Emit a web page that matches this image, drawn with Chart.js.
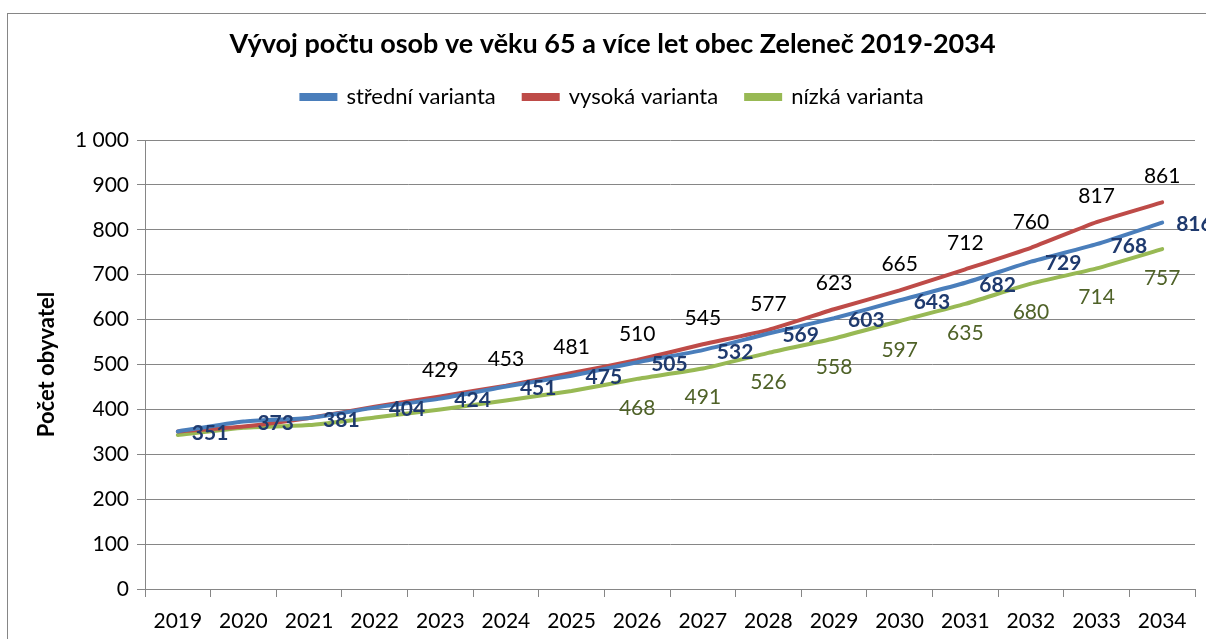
<!DOCTYPE html>
<html>
<head>
<meta charset="utf-8">
<script src="https://cdn.jsdelivr.net/npm/chart.js@4.4.1/dist/chart.umd.min.js"></script>
<style>
  html, body { margin: 0; padding: 0; background: #fff; overflow: hidden; }
  .frame {
    position: absolute; left: 7px; top: 13px; width: 1220px; height: 660px;
    border: 1px solid #868686; box-sizing: border-box;
  }
  .wrap { position: absolute; left: 0; top: 0; width: 1206px; height: 639px; }
</style>
</head>
<body>
<div class="frame"></div>
<div class="wrap"><canvas id="chart" width="1206" height="639"></canvas></div>
<script>
// Data
const years = ['2019', '2020', '2021', '2022', '2023', '2024', '2025', '2026',
               '2027', '2028', '2029', '2030', '2031', '2032', '2033', '2034'];
const stredni = [351, 373, 381, 404, 424, 451, 475, 505, 532, 569, 603, 643, 682, 729, 768, 816];
const vysoka  = [351, 362, 381, 406, 429, 453, 481, 510, 545, 577, 623, 665, 712, 760, 817, 861];
const nizka   = [343, 359, 365, 382, 400, 420, 441, 468, 491, 526, 558, 597, 635, 680, 714, 757];
const yTicks = [0, 100, 200, 300, 400, 500, 600, 700, 800, 900, 1000];

// labels that are visible in the reference (first index shown)
const vysokaLabelFrom = 4;
const nizkaLabelFrom = 7;

const FONT = 'Lato, "Open Sans", sans-serif';

// Simple data label drawing (no datalabels plugin available offline)
const valueLabels = {
    id: 'valueLabels',
    afterDatasetsDraw(chart) {
        const ctx = chart.ctx;
        ctx.save();
        ctx.textBaseline = 'middle';
        chart.data.datasets.forEach((ds, di) => {
            const meta = chart.getDatasetMeta(di);
            meta.data.forEach((pt, i) => {
                const v = ds.data[i];
                if (di === 0) {
                    ctx.font = 'bold 21px ' + FONT;
                    ctx.fillStyle = '#1F3A6E';
                    ctx.textAlign = 'left';
                    ctx.fillText(v, pt.x + 14, pt.y + 2);
                } else if (di === 1 && i >= vysokaLabelFrom) {
                    ctx.font = '21px ' + FONT;
                    ctx.fillStyle = '#000';
                    ctx.textAlign = 'center';
                    ctx.fillText(v, pt.x, pt.y - 26);
                } else if (di === 2 && i >= nizkaLabelFrom) {
                    ctx.font = '21px ' + FONT;
                    ctx.fillStyle = '#4F6228';
                    ctx.textAlign = 'center';
                    ctx.fillText(v, pt.x, pt.y + 29);
                }
            });
        });
        ctx.restore();
    }
};

const ctx = document.getElementById('chart').getContext('2d');
new Chart(ctx, {
    type: 'line',
    data: {
        labels: years,
        datasets: [
            { label: 'střední varianta', data: stredni, borderColor: '#4A7EBB', backgroundColor: '#4A7EBB' },
            { label: 'vysoká varianta', data: vysoka, borderColor: '#BE4B48', backgroundColor: '#BE4B48' },
            { label: 'nízká varianta', data: nizka, borderColor: '#98B954', backgroundColor: '#98B954' }
        ]
    },
    options: {
        responsive: false,
        animation: false,
        elements: {
            line: { borderWidth: 4, tension: 0.15, borderCapStyle: 'round' },
            point: { radius: 0 }
        },
        layout: { padding: { left: 30, right: 11, top: 0, bottom: 0 } },
        plugins: {
            title: {
                display: true,
                text: 'Vývoj počtu osob ve věku 65 a více let obec Zeleneč 2019-2034',
                color: '#000',
                font: { family: FONT, size: 27, weight: 'bold', lineHeight: 1 },
                padding: { top: 31, bottom: 0 }
            },
            legend: {
                display: true,
                position: 'top',
                labels: {
                    color: '#000',
                    font: { family: FONT, size: 22 },
                    boxWidth: 34,
                    boxHeight: 4,
                    padding: 28
                }
            },
            tooltip: { enabled: false }
        },
        scales: {
            x: {
                offset: true,
                grid: {
                    offset: true,
                    drawOnChartArea: false,
                    drawTicks: true,
                    tickLength: 8,
                    color: '#868686'
                },
                border: { color: '#868686' },
                ticks: {
                    color: '#000',
                    font: { family: FONT, size: 21 },
                    maxRotation: 0,
                    padding: 12
                },
                afterFit(scale) { scale.height = 50; }
            },
            // empty spacer between legend and plot area
            spacer: {
                type: 'category',
                position: 'top',
                grid: { display: false },
                border: { display: false },
                ticks: { display: false },
                afterFit(scale) { scale.height = 22; }
            },
            y: {
                min: 0,
                max: 1000,
                afterBuildTicks(scale) { scale.ticks = yTicks.map(v => ({ value: v })); },
                grid: { color: '#868686', tickLength: 8 },
                border: { color: '#868686' },
                ticks: {
                    color: '#000',
                    font: { family: FONT, size: 21 },
                    padding: 8,
                    callback: v => v >= 1000 ? String(v).replace(/\B(?=(\d{3})+(?!\d))/g, ' ') : v
                },
                title: {
                    display: true,
                    text: 'Počet obyvatel',
                    color: '#000',
                    font: { family: FONT, size: 22, weight: 'bold' }
                },
                afterFit(scale) { scale.width = 115; }
            }
        }
    },
    plugins: [valueLabels]
});
</script>
</body>
</html>
